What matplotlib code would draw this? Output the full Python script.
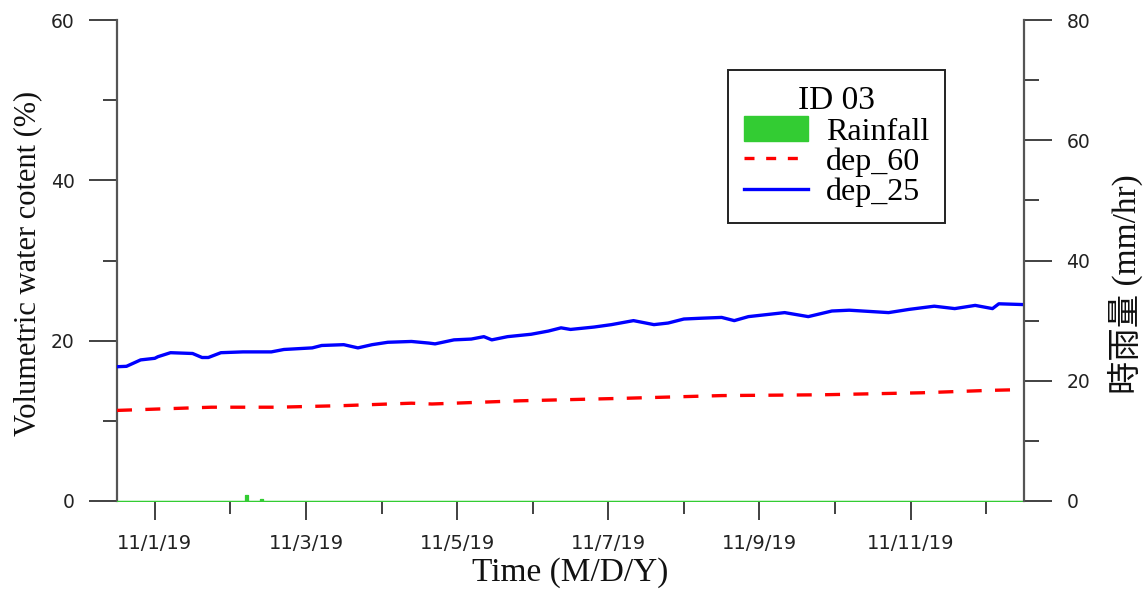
import matplotlib
matplotlib.use("Agg")
import matplotlib.pyplot as plt
import matplotlib.dates as mdates
import pandas as pd
from matplotlib.patches import Patch
from matplotlib.lines import Line2D

# ---- data ----
dep25_time = ['2019-10-31 12:00', '2019-10-31 15:00', '2019-10-31 19:30', '2019-11-01 00:00',
              '2019-11-01 01:00', '2019-11-01 05:00', '2019-11-01 12:00', '2019-11-01 15:00',
              '2019-11-01 17:00', '2019-11-01 21:00', '2019-11-02 04:00', '2019-11-02 13:00',
              '2019-11-02 17:00', '2019-11-03 02:00', '2019-11-03 05:00', '2019-11-03 12:00',
              '2019-11-03 16:30', '2019-11-03 21:00', '2019-11-04 02:00', '2019-11-04 09:30',
              '2019-11-04 15:00', '2019-11-04 17:00', '2019-11-04 23:00', '2019-11-05 04:30',
              '2019-11-05 08:30', '2019-11-05 11:00', '2019-11-05 16:00', '2019-11-05 23:30',
              '2019-11-06 05:00', '2019-11-06 09:00', '2019-11-06 12:00', '2019-11-06 19:30',
              '2019-11-07 01:00', '2019-11-07 08:00', '2019-11-07 14:30', '2019-11-07 19:00',
              '2019-11-08 00:00', '2019-11-08 05:30', '2019-11-08 12:00', '2019-11-08 16:00',
              '2019-11-08 20:30', '2019-11-09 08:00', '2019-11-09 15:30', '2019-11-09 23:00',
              '2019-11-10 04:30', '2019-11-10 17:00', '2019-11-10 23:30', '2019-11-11 07:30',
              '2019-11-11 14:00', '2019-11-11 20:30', '2019-11-12 02:00', '2019-11-12 04:00',
              '2019-11-12 12:00']
dep25_vwc = [16.75, 16.8, 17.6, 17.8, 18.0, 18.5, 18.4, 17.9, 17.9, 18.5, 18.6, 18.6,
             18.9, 19.1, 19.4, 19.5, 19.1, 19.5, 19.8, 19.9, 19.7, 19.6, 20.1, 20.2,
             20.5, 20.1, 20.5, 20.8, 21.2, 21.6, 21.4, 21.7, 22.0, 22.5, 22.0, 22.2,
             22.7, 22.8, 22.9, 22.5, 23.0, 23.5, 23.0, 23.7, 23.8, 23.5, 23.9, 24.3,
             24.0, 24.4, 24.0, 24.6, 24.5]

dep60_time = ['2019-10-31 12:00', '2019-11-01 18:00', '2019-11-02 15:00', '2019-11-03 12:00',
              '2019-11-04 09:30', '2019-11-04 16:00', '2019-11-05 20:00', '2019-11-07 04:00',
              '2019-11-08 12:00', '2019-11-09 20:00', '2019-11-11 03:30', '2019-11-12 01:00',
              '2019-11-12 12:00']
dep60_vwc = [11.3, 11.7, 11.7, 11.9, 12.2, 12.1, 12.5, 12.8, 13.15, 13.25, 13.5, 13.8, 13.9]

rain_time = ['2019-10-31 12:00', '2019-11-02 04:00', '2019-11-02 05:00', '2019-11-02 06:00',
             '2019-11-02 09:00', '2019-11-02 10:00', '2019-11-02 11:00', '2019-11-12 12:00']
rain_mm = [0, 0, 1.0, 0, 0, 0.3, 0, 0]

x_start, x_end = '2019-10-31 12:00', '2019-11-12 12:00'

# ---- styles ----
serif = 'Liberation Serif'
tick_font = 'DejaVu Sans'
spine_col = '#555555'
tick_col = '#333333'
green = '#33CC33'

fig = plt.figure(figsize=(11.45, 5.94), dpi=100)
ax = fig.add_axes([117/1145, 1 - 501/594, (1024-117)/1145, (501-20)/594])
ax2 = ax.twinx()

t25 = pd.to_datetime(dep25_time)
t60 = pd.to_datetime(dep60_time)
tr = pd.to_datetime(rain_time)

ax.plot(t60, dep60_vwc, color='#FF0000', lw=2.4, dashes=(4.5, 4.0), label='dep_60', zorder=3)
ax.plot(t25, dep25_vwc, color='#0000FF', lw=2.4, label='dep_25', zorder=4)
ax2.fill_between(tr, rain_mm, step='mid', color=green, edgecolor=green, lw=0.9, zorder=2)

ax.set_xlim(pd.Timestamp(x_start), pd.Timestamp(x_end))
ax.set_ylim(0, 60)
ax2.set_ylim(0, 80)

ax.set_yticks([0, 20, 40, 60])
ax.set_yticks([10, 30, 50], minor=True)
ax2.set_yticks([0, 20, 40, 60, 80])
ax2.set_yticks([10, 30, 50, 70], minor=True)

ax.xaxis.set_major_locator(mdates.DayLocator(bymonthday=[1, 3, 5, 7, 9, 11]))
ax.xaxis.set_minor_locator(mdates.DayLocator(bymonthday=[2, 4, 6, 8, 10, 12]))

def fmt_date(x, pos=None):
    d = mdates.num2date(x)
    return f"{d.month}/{d.day}/{d:%y}"
ax.xaxis.set_major_formatter(plt.FuncFormatter(fmt_date))

for a in (ax, ax2):
    a.spines['top'].set_visible(False)
    a.spines['bottom'].set_visible(False)
ax.spines['right'].set_visible(False)
ax2.spines['left'].set_visible(False)
ax.spines['left'].set_color(spine_col)
ax.spines['left'].set_linewidth(1.6)
ax2.spines['right'].set_color(spine_col)
ax2.spines['right'].set_linewidth(1.6)

ax.tick_params(axis='y', which='major', length=20.5, width=1.3, color=tick_col, pad=10,
               labelsize=13.5, labelcolor='#222222', direction='out')
ax.tick_params(axis='y', which='minor', length=10, width=1.3, color=tick_col, direction='out')
ax2.tick_params(axis='y', which='major', length=20.5, width=1.3, color=tick_col, pad=10,
                labelsize=13.5, labelcolor='#222222', direction='out')
ax2.tick_params(axis='y', which='minor', length=11, width=1.3, color=tick_col, direction='out')
ax.tick_params(axis='x', which='major', length=14, width=1.3, color=tick_col, pad=10,
               labelsize=14, labelcolor='#222222', direction='out')
ax.tick_params(axis='x', which='minor', length=9, width=1.3, color=tick_col, direction='out')
for lab in ax.get_xticklabels() + ax.get_yticklabels() + ax2.get_yticklabels():
    lab.set_family(tick_font)

ax.set_xlabel('Time (M/D/Y)', family=serif, fontsize=24, color='#111111')
ax.xaxis.set_label_coords(0.5, -0.117)
ax.set_ylabel('Volumetric water cotent (%)', family=serif, fontsize=22, color='#111111')
ax.yaxis.set_label_coords(-0.083, 0.493)
ax2.set_ylabel('時雨量 (mm/hr)', family=[serif, 'Noto Sans CJK TC'], fontsize=24,
               color='#111111', rotation=90)
ax2.yaxis.set_label_coords(1.092, 0.45)

handles = [Patch(facecolor=green, edgecolor=green),
           Line2D([], [], color='#FF0000', lw=2.4, dashes=(3.0, 3.5)),
           Line2D([], [], color='#0000FF', lw=2.4)]
labels = ['Rainfall', 'dep_60', 'dep_25']
leg = ax2.legend(handles, labels, loc='upper right', bbox_to_anchor=(0.9129, 0.896),
                 borderaxespad=0, title='ID 03', fancybox=False, framealpha=1,
                 edgecolor='#222222', prop={'family': serif, 'size': 23},
                 title_fontproperties={'family': serif, 'size': 24},
                 handlelength=2.0, handleheight=0.8, handletextpad=0.55,
                 labelspacing=0.0, borderpad=0.5)
leg.get_frame().set_linewidth(1.4)

fig.savefig('out.png', dpi=100)
